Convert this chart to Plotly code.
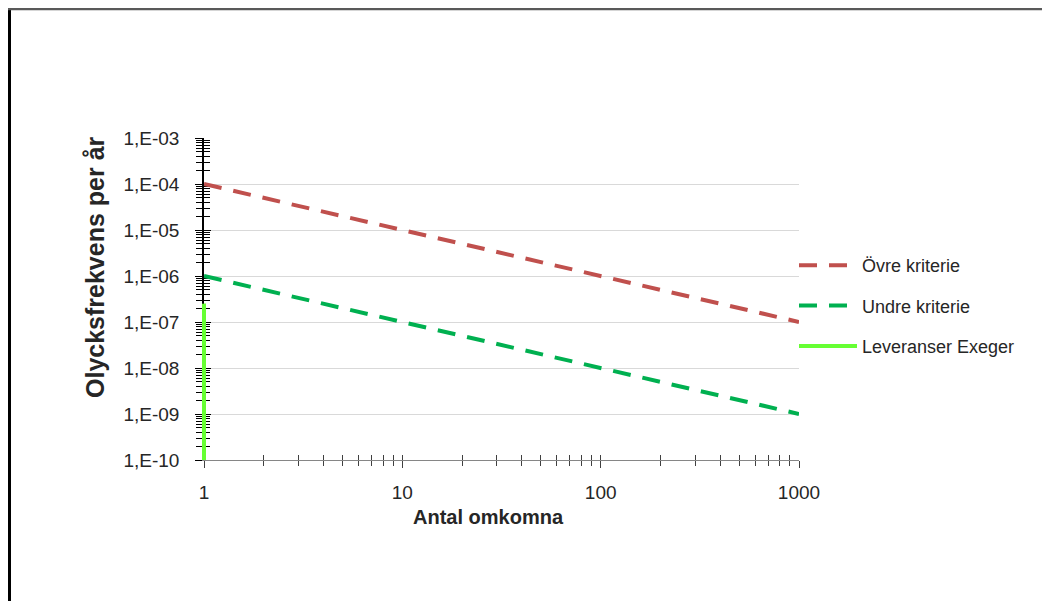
import math
import plotly.graph_objects as go

# ---- data ----
x_vals = [1, 1000]
ovre_kriterie = [1e-4, 1e-7]
undre_kriterie = [1e-6, 1e-9]
lev_x = [1, 1]
lev_y = [1e-10, 2.5e-7]

y_tickvals = [1e-3, 1e-4, 1e-5, 1e-6, 1e-7, 1e-8, 1e-9, 1e-10]
y_ticktext = ["1,E-03", "1,E-04", "1,E-05", "1,E-06", "1,E-07", "1,E-08", "1,E-09", "1,E-10"]
x_tickvals = [1, 10, 100, 1000]
x_ticktext = ["1", "10", "100", "1000"]

X_RANGE = [0, 3]
Y_RANGE = [-10, -3]

FONT = "Liberation Sans"
TXT = "#262626"
LEV_COLOR = "#66FF33"

fig = go.Figure()
fig.add_trace(go.Scatter(x=x_vals, y=ovre_kriterie, mode="lines", name="Övre kriterie",
                         line=dict(color="#C0504D", width=4, dash="18px,12px"),
                         legendgroup="a"))
fig.add_trace(go.Scatter(x=x_vals, y=undre_kriterie, mode="lines", name="Undre kriterie",
                         line=dict(color="#00B050", width=4, dash="18px,12px"),
                         legendgroup="b"))
fig.add_trace(go.Scatter(x=lev_x, y=lev_y, mode="lines", name="Leveranser Exeger",
                         xaxis="x2", yaxis="y2",
                         line=dict(color=LEV_COLOR, width=4),
                         legendgroup="c"))

OFF = 8  # page body margin
L, R, T, B = 204 - OFF, 799 - OFF, 138 - OFF, 460 - OFF
W, H = 1050, 601


def px_x(p):
    return (p - OFF - L) / (R - L)


def px_y(p):
    return (B - (p - OFF)) / (B - T)


# the vertical line sits on the plot edge; draw it also as an unclipped shape
# (x in axis-domain units computed from the data, y in data units)
lev_xdom = [(math.log10(v) - X_RANGE[0]) / (X_RANGE[1] - X_RANGE[0]) for v in lev_x]

fig.update_layout(
    width=W, height=H,
    margin=dict(l=L, r=W - R, t=T, b=H - B, pad=0),
    paper_bgcolor="white", plot_bgcolor="white",
    font=dict(family=FONT, color=TXT, size=18),
    showlegend=True,
    legend=dict(x=px_x(794), y=px_y(247), xanchor="left", yanchor="top",
                font=dict(size=18, color=TXT, family=FONT), itemwidth=58,
                tracegroupgap=14, bgcolor="rgba(0,0,0,0)"),
    xaxis=dict(type="log", range=X_RANGE, tickmode="array", tickvals=x_tickvals, ticktext=x_ticktext,
               ticks="outside", ticklen=7, tickcolor="#404040", tickwidth=1, layer="below traces",
               showline=True, linecolor="#868686", linewidth=1, showgrid=False, zeroline=False,
               minor=dict(dtick="D1", ticks="outside", ticklen=5, tickcolor="#404040", showgrid=False),
               tickfont=dict(size=19, color=TXT), ticklabelstandoff=8),
    yaxis=dict(type="log", range=Y_RANGE, tickmode="array", tickvals=y_tickvals, ticktext=y_ticktext,
               ticks="outside", ticklen=7, tickcolor="black", tickwidth=1, layer="below traces",
               showline=True, linecolor="black", linewidth=1.5,
               showgrid=True, gridcolor="#D9D9D9", gridwidth=1, zeroline=False,
               minor=dict(dtick="D1", ticks="outside", ticklen=6, tickcolor="black", showgrid=False),
               tickfont=dict(size=19, color=TXT), ticklabelstandoff=12),
    xaxis2=dict(type="log", range=X_RANGE, overlaying="x", anchor="y2", side="bottom",
                tickmode="array", tickvals=x_tickvals, showticklabels=False, layer="below traces",
                ticks="inside", ticklen=5, tickcolor="#404040", showline=False, showgrid=False,
                zeroline=False,
                minor=dict(dtick="D1", ticks="inside", ticklen=5, tickcolor="#404040", showgrid=False)),
    yaxis2=dict(type="log", range=Y_RANGE, overlaying="y", anchor="x2", side="left",
                tickmode="array", tickvals=y_tickvals, showticklabels=False, layer="below traces",
                ticks="inside", ticklen=7, tickcolor="black", showline=False, showgrid=False,
                zeroline=False,
                minor=dict(dtick="D1", ticks="inside", ticklen=6, tickcolor="black", showgrid=False)),
    annotations=[
        dict(text="<b>Antal omkomna</b>", xref="paper", yref="paper",
             x=px_x(488), y=px_y(517), xanchor="center", yanchor="middle",
             showarrow=False, font=dict(size=20, color=TXT, family=FONT)),
        dict(text="<b>Olycksfrekvens per år</b>", xref="paper", yref="paper",
             x=px_x(95), y=px_y(267), xanchor="center", yanchor="middle", textangle=-90,
             showarrow=False, font=dict(size=25, color=TXT, family=FONT)),
    ],
    shapes=[
        dict(type="line", xref="x domain", yref="y", layer="above",
             x0=lev_xdom[0], x1=lev_xdom[1], y0=lev_y[0], y1=lev_y[1],
             line=dict(color=LEV_COLOR, width=4)),
        dict(type="line", xref="paper", yref="paper",
             x0=px_x(9.5), x1=px_x(9.5), y0=px_y(8), y1=px_y(620),
             line=dict(color="black", width=3)),
        dict(type="line", xref="paper", yref="paper",
             x0=px_x(8), x1=px_x(1070), y0=px_y(9), y1=px_y(9),
             line=dict(color="#595959", width=2.5)),
    ],
)

fig.write_html("out.html")
